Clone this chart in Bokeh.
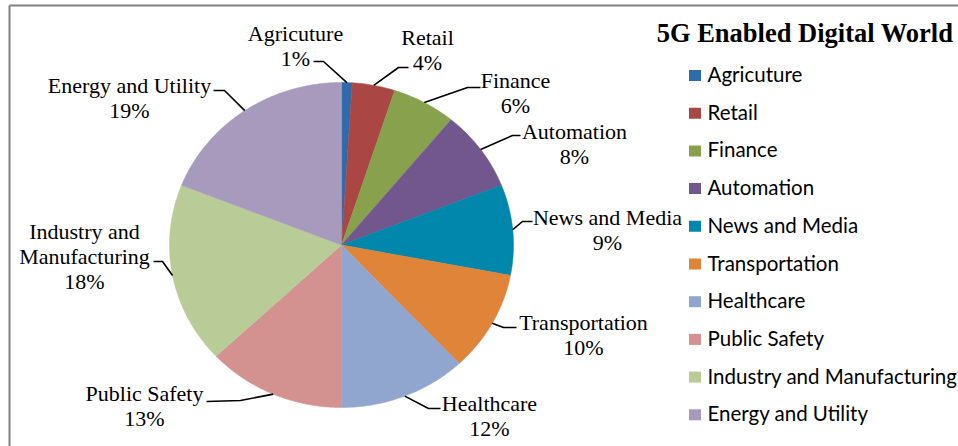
import numpy as np
from bokeh.plotting import figure
from bokeh.models import Range1d, ColumnDataSource
from bokeh.core.properties import value
from bokeh.embed import file_html
from bokeh.resources import INLINE

# ---------------- data ----------------
categories = ["Agricuture", "Retail", "Finance", "Automation", "News and Media",
              "Transportation", "Healthcare", "Public Safety",
              "Industry and Manufacturing", "Energy and Utility"]
shares = [1, 4, 6, 8, 9, 10, 12, 13, 18, 19]
colors = ["#2F6BAA", "#AA4644", "#88A14C", "#72578E", "#0087AB",
          "#E0843A", "#91A6CE", "#D39290", "#B9CB97", "#A79ABC"]
label_names = ["Agricuture", "Retail", "Finance", "Automation", "News and Media",
               "Transportation", "Healthcare", "Public Safety",
               "Industry and\nManufacturing", "Energy and Utility"]
title_text = "5G Enabled Digital World"

# ---------------- layout (pixels) ----------------
W, H = 958, 446
CX, CY, RX, RY = 341, 244.5, 172, 162.5
label_x = [295, 427, 515, 574, 607, 583, 489, 144, 84, 129]
label_y = [45.5, 49.5, 92.5, 143, 229, 334, 415.5, 405.5, 256, 97]
elbow_x = [323, 398, 467, 512, 522, 503, 428, 240, 162, 224]
elbow_y = [61, 67, 87, 135, 221, 327, 408, 400, 261, 90]
end_x = [313, 408, 480, 520, 532, 516, 440, 206, 153, 213]
end_y = [61, 67, 87, 135, 221, 327, 408, 401, 261, 90]
legend_sq_x = 694.5
legend_text_x = 707
legend_y0, legend_dy = 73.5, 37.7
serif = value("Liberation Serif")
sans = value("Lato")

p = figure(width=W, height=H, x_range=Range1d(0, W), y_range=Range1d(H, 0),
           output_backend="svg", toolbar_location=None, min_border=0,
           x_axis_type=None, y_axis_type=None)
p.xgrid.visible = False
p.ygrid.visible = False
p.outline_line_color = None
p.background_fill_color = "white"
p.border_fill_color = "white"

# frame border (top and left visible)
p.multi_line(xs=[[9, 2000], [9, 9]], ys=[[5, 5], [5, 2000]],
             line_color="#808080", line_width=2)

# pie slices
total = float(sum(shares))
cum = np.concatenate([[0.0], np.cumsum(shares)]) / total
xs, ys = [], []
mid_x, mid_y = [], []
for a, b in zip(cum[:-1], cum[1:]):
    n = max(6, int((b - a) * 400))
    t = np.linspace(a, b, n) * 2 * np.pi
    xs.append([CX] + list(CX + RX * np.sin(t)) + [CX])
    ys.append([CY] + list(CY - RY * np.cos(t)) + [CY])
    m = (a + b) / 2 * 2 * np.pi
    mid_x.append(CX + RX * np.sin(m))
    mid_y.append(CY - RY * np.cos(m))

src = ColumnDataSource(dict(xs=xs, ys=ys, color=colors))
p.patches("xs", "ys", source=src, fill_color="color", line_color="color",
          line_width=0.5)

# leader lines
lx = [[mx, ex, nx] for mx, ex, nx in zip(mid_x, elbow_x, end_x)]
ly = [[my, ey, ny] for my, ey, ny in zip(mid_y, elbow_y, end_y)]
p.multi_line(xs=lx, ys=ly, line_color="black", line_width=1.6)

# data labels
labels = [f"{n}\n{v}%" for n, v in zip(label_names, shares)]
p.text(x=label_x, y=label_y, text=labels, text_font=serif, text_font_size="22px",
       text_align="center", text_baseline="middle", text_line_height=1.0,
       text_color="black")

# title
p.text(x=[804.5], y=[32], text=[title_text], text_font=serif, text_font_size="26.5px",
       text_font_style="bold", text_align="center", text_baseline="middle",
       text_color="black")

# legend
ly_rows = [legend_y0 + i * legend_dy for i in range(len(categories))]
p.rect(x=[legend_sq_x] * len(categories), y=[y + 1.5 for y in ly_rows],
       width=12, height=11, fill_color=colors, line_color=None)
p.text(x=[legend_text_x] * len(categories), y=ly_rows, text=categories,
       text_font=sans, text_font_size="20.5px", text_align="left",
       text_baseline="middle", text_color="black")

open("out.html", "w").write(file_html(p, INLINE))
